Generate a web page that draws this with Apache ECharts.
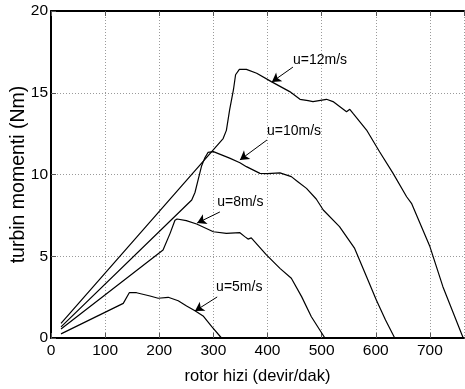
<!DOCTYPE html>
<html>
<head>
<meta charset="utf-8">
<script src="https://cdn.jsdelivr.net/npm/echarts@6/dist/echarts.min.js"></script>
<style>
html,body{margin:0;padding:0;background:#fff;}
#chart{width:465px;height:389px;}
</style>
</head>
<body>
<div id="chart"></div>
<script>
// Data: [rotor speed (devir/dak), torque (Nm)]
var u12 = [[18.5,0.9],[318,12.2],[324,12.7],[330,13.95],[337,15.17],[341,16.1],[348,16.43],[361,16.43],[380,16.19],[407,15.68],[441,15.07],[460,14.6],[475,14.52],[484,14.46],[509,14.6],[521,14.46],[546,13.84],[552,13.99],[558,13.74],[583,12.72],[607,11.39],[632,10.07],[657,8.64],[666,8.24],[700,5.59],[724,3.14],[761,0.05]];
var u10 = [[18.5,0.68],[260,8.44],[266,8.9],[272,9.7],[278,10.5],[284,11.0],[290,11.35],[300,11.4],[315,11.2],[330,11.0],[349,10.72],[361,10.48],[386,10.07],[400,10.05],[423,10.1],[444,9.87],[456,9.56],[459,9.68],[472,9.15],[490,8.5],[503,7.83],[533,6.81],[561,5.48],[583,3.75],[601,2.32],[618,1.1],[635,0]];
var u8 = [[18.5,0.55],[207,5.38],[220,6.4],[229,7.2],[233,7.28],[250,7.18],[269,6.97],[300,6.5],[324,6.4],[349,6.44],[358,6.2],[364,6.05],[367,6.15],[370,6.12],[398,5.08],[423,4.26],[444,3.65],[463,2.53],[481,1.3],[506,0]];
var u5 = [[18.5,0.25],[133.5,2.12],[144.6,2.77],[158,2.77],[183,2.57],[198,2.43],[216.5,2.49],[235,2.28],[250.5,1.96],[266,1.67],[281,1.35],[297,0.69],[315,0]];
var seriesNames = ['u=12m/s','u=10m/s','u=8m/s','u=5m/s'];
// annotation: text anchor and arrow [from, to] in data units
var labelPos = [[447,17.0],[399,12.66],[307,8.32],[305,3.12]];
var arrowFrom = [[447,16.57],[399,12.11],[312,7.71],[307,2.51]];
var arrowTo = [[408,15.66],[349,10.89],[270,7.03],[266,1.65]];
var xTicks = [0,100,200,300,400,500,600,700];
var yTicks = [0,5,10,15,20];

var font = "'Liberation Sans', Arial, Helvetica, sans-serif";
var chart = echarts.init(document.getElementById('chart'), null, {renderer:'canvas'});
var curves = [u12,u10,u8,u5];
var series = curves.map(function(d,i){
  return {
    type:'line', name:seriesNames[i], data:d, showSymbol:false, symbol:'none',
    lineStyle:{color:'#000',width:1.2}, z:3,
    markLine:{
      silent:true, symbol:['none','arrow'], symbolSize:[8,9],
      lineStyle:{color:'#000',width:1,type:'solid'}, label:{show:false},
      data:[[{coord:arrowFrom[i]},{coord:arrowTo[i]}]]
    },
    markPoint:{
      silent:true, symbol:'circle', symbolSize:0,
      label:{show:true, position:'right', distance:0, formatter:seriesNames[i], color:'#000', fontFamily:font, fontSize:14},
      data:[{coord:labelPos[i]}]
    }
  };
});
var gridLine = {show:true, lineStyle:{color:'#9a9a9a', type:[1,2], width:1}};
chart.setOption({
  animation:false,
  backgroundColor:'#fff',
  grid:{left:51, right:1, top:11, bottom:51, containLabel:false, outerBoundsMode:'none'},
  xAxis:[{
    type:'value', min:0, max:763, interval:100, position:'bottom',
    name:'rotor hizi (devir/dak)', nameLocation:'middle', nameGap:30,
    nameTextStyle:{color:'#000', fontFamily:font, fontSize:16.5},
    axisLine:{show:true, onZero:false, lineStyle:{color:'#000', width:2}},
    axisTick:{show:true, inside:true, length:5, lineStyle:{color:'#555'}},
    axisLabel:{color:'#000', fontFamily:font, fontSize:15.5, margin:5, showMaxLabel:false,
      formatter:function(v){return xTicks.indexOf(v)>=0 ? String(v) : '';}},
    splitLine:gridLine
  },{
    type:'value', min:0, max:763, interval:100, position:'top',
    axisLine:{show:true, onZero:false, lineStyle:{color:'#000', width:2}},
    axisTick:{show:true, inside:true, length:5, lineStyle:{color:'#555'}},
    axisLabel:{show:false}, splitLine:{show:false}
  }],
  yAxis:[{
    type:'value', min:0, max:20, interval:5,
    name:'turbin momenti (Nm)', nameLocation:'middle', nameGap:22, nameMoveOverlap:false,
    nameTextStyle:{color:'#000', fontFamily:font, fontSize:19.5},
    axisLine:{show:true, onZero:false, lineStyle:{color:'#000', width:2}},
    axisTick:{show:true, inside:true, length:5, lineStyle:{color:'#555'}},
    axisLabel:{color:'#000', fontFamily:font, fontSize:15.5, margin:3,
      formatter:function(v){return yTicks.indexOf(v)>=0 ? String(v) : '';}},
    splitLine:gridLine
  }],
  series:series
});
</script>
</body>
</html>
